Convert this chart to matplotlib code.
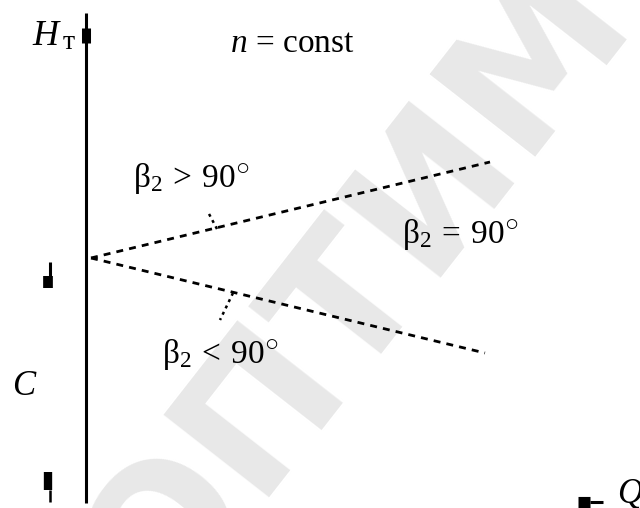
import matplotlib
matplotlib.use("Agg")
import matplotlib.pyplot as plt

plt.rcParams['font.family'] = ['Liberation Serif', 'DejaVu Serif']
plt.rcParams['mathtext.fontset'] = 'custom'
plt.rcParams['mathtext.rm'] = 'Liberation Serif'
plt.rcParams['mathtext.it'] = 'Liberation Serif:italic'

# head H against flow Q for the two blade outlet angles (n = const)
Q_forward = [5, 404]
H_forward = [244, 340]      # beta2 > 90
Q_backward = [5, 399]
H_backward = [244, 149]     # beta2 < 90

# short leader lines from the labels to the branches
Q_lead_fwd = [131, 122]
H_lead_fwd = [273, 290]
Q_lead_bwd = [147, 134]
H_lead_bwd = [209, 182]

# vertical H axis
Q_axis = [0, 0]
H_axis = [-1, 489]

fig = plt.figure(figsize=(6.4, 5.08), dpi=100)
ax = fig.add_axes([0, 0, 1, 1])
ax.set_xlim(-86, 554)
ax.set_ylim(-6, 502)
ax.axis('off')

# faint background watermark
ax.text(272, 212, 'ОПТИМ', rotation=52, rotation_mode='anchor',
        ha='center', va='center', fontsize=132, fontweight='bold',
        family='DejaVu Sans', color='#e8e8e8', zorder=0)

ax.plot(Q_axis, H_axis, color='black', lw=2.2, solid_capstyle='butt')

# leftover arrow stubs on the axes
ax.plot([0, 0], [459, 474], color='black', lw=6.5, solid_capstyle='butt')
ax.plot([-36.5, -36.5], [226, 240], color='black', lw=2.2, solid_capstyle='butt')
ax.plot([-38, -38], [214, 226], color='black', lw=7, solid_capstyle='butt')
ax.plot([-38, -38], [12, 30], color='black', lw=6, solid_capstyle='butt')
ax.plot([-36, -36], [0, 12], color='black', lw=1.8, solid_capstyle='butt')
ax.plot([492, 504], [0, 0], color='black', lw=8, solid_capstyle='butt')
ax.plot([504, 517], [0.5, 0.5], color='black', lw=2.2, solid_capstyle='butt')

ax.plot(Q_forward, H_forward, color='black', lw=2.0, ls=(0, (2.5, 2.2)))
ax.plot(Q_backward, H_backward, color='black', lw=2.0, ls=(0, (2.5, 2.2)))
ax.plot(Q_lead_fwd, H_lead_fwd, color='black', lw=1.8, ls=(0, (1.2, 1.6)))
ax.plot(Q_lead_bwd, H_lead_bwd, color='black', lw=1.8, ls=(0, (1.2, 1.6)))

# labels
ax.text(-54, 457, 'H', fontsize=26, style='italic', ha='left', va='baseline')
ax.text(-23, 453, 'т', fontsize=20, ha='left', va='baseline')
ax.text(144, 450, r'$n$ = const', fontsize=24, ha='left', va='baseline')
ax.text(47, 315, r'$\mathrm{β}_2\:>\:90^{\bigcirc}$', fontsize=24, ha='left', va='baseline')
ax.text(316, 259, r'$\mathrm{β}_2\:=\:90^{\bigcirc}$', fontsize=24, ha='left', va='baseline')
ax.text(76, 139, r'$\mathrm{β}_2\:<\:90^{\bigcirc}$', fontsize=24, ha='left', va='baseline')
ax.text(-74, 107, 'C', fontsize=25, style='italic', ha='left', va='baseline')
ax.text(531, -1, 'Q', fontsize=25, style='italic', ha='left', va='baseline')

fig.savefig('out.png', dpi=100)
